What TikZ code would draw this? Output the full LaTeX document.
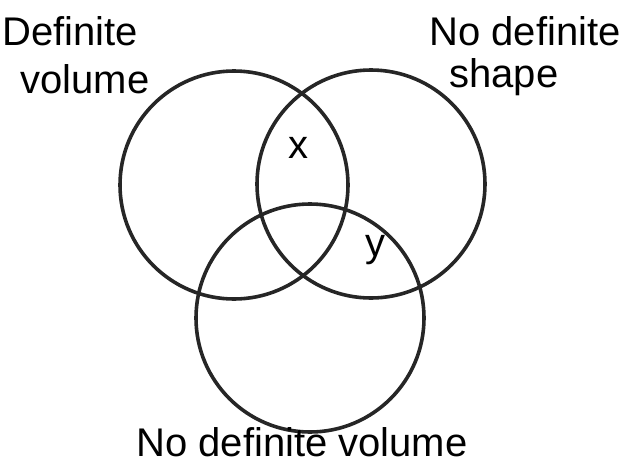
\documentclass[tikz,border=0pt]{standalone}
\usepackage{fontspec}
\setmainfont{Liberation Sans}
\begin{document}
\begin{tikzpicture}[x=1pt,y=-1pt,
  ring/.style={draw=black!85,line width=3.6pt},
  lbl/.style={font=\fontsize{40}{46}\selectfont,inner sep=0pt}]
\useasboundingbox (0,0) rectangle (625,469);
\draw[ring] (234,185) circle[radius=114] coordinate (c1);
\draw[ring] (371,184) circle[radius=114] coordinate (c2);
\draw[ring] (310,318) circle[radius=114] coordinate (c3);
\node[lbl] (t1a) at (70,31) {Definite};
\node[lbl] (t1b) at (85,79) {volume};
\node[lbl] (t2a) at (525,31) {No definite};
\node[lbl] (t2b) at (504,77) {shape};
\node[lbl] (t3) at (302,442) {No definite volume};
\node[lbl] (x) at (298,148) {x};
\node[lbl] (y) at (375,250) {y};
\end{tikzpicture}
\end{document}
